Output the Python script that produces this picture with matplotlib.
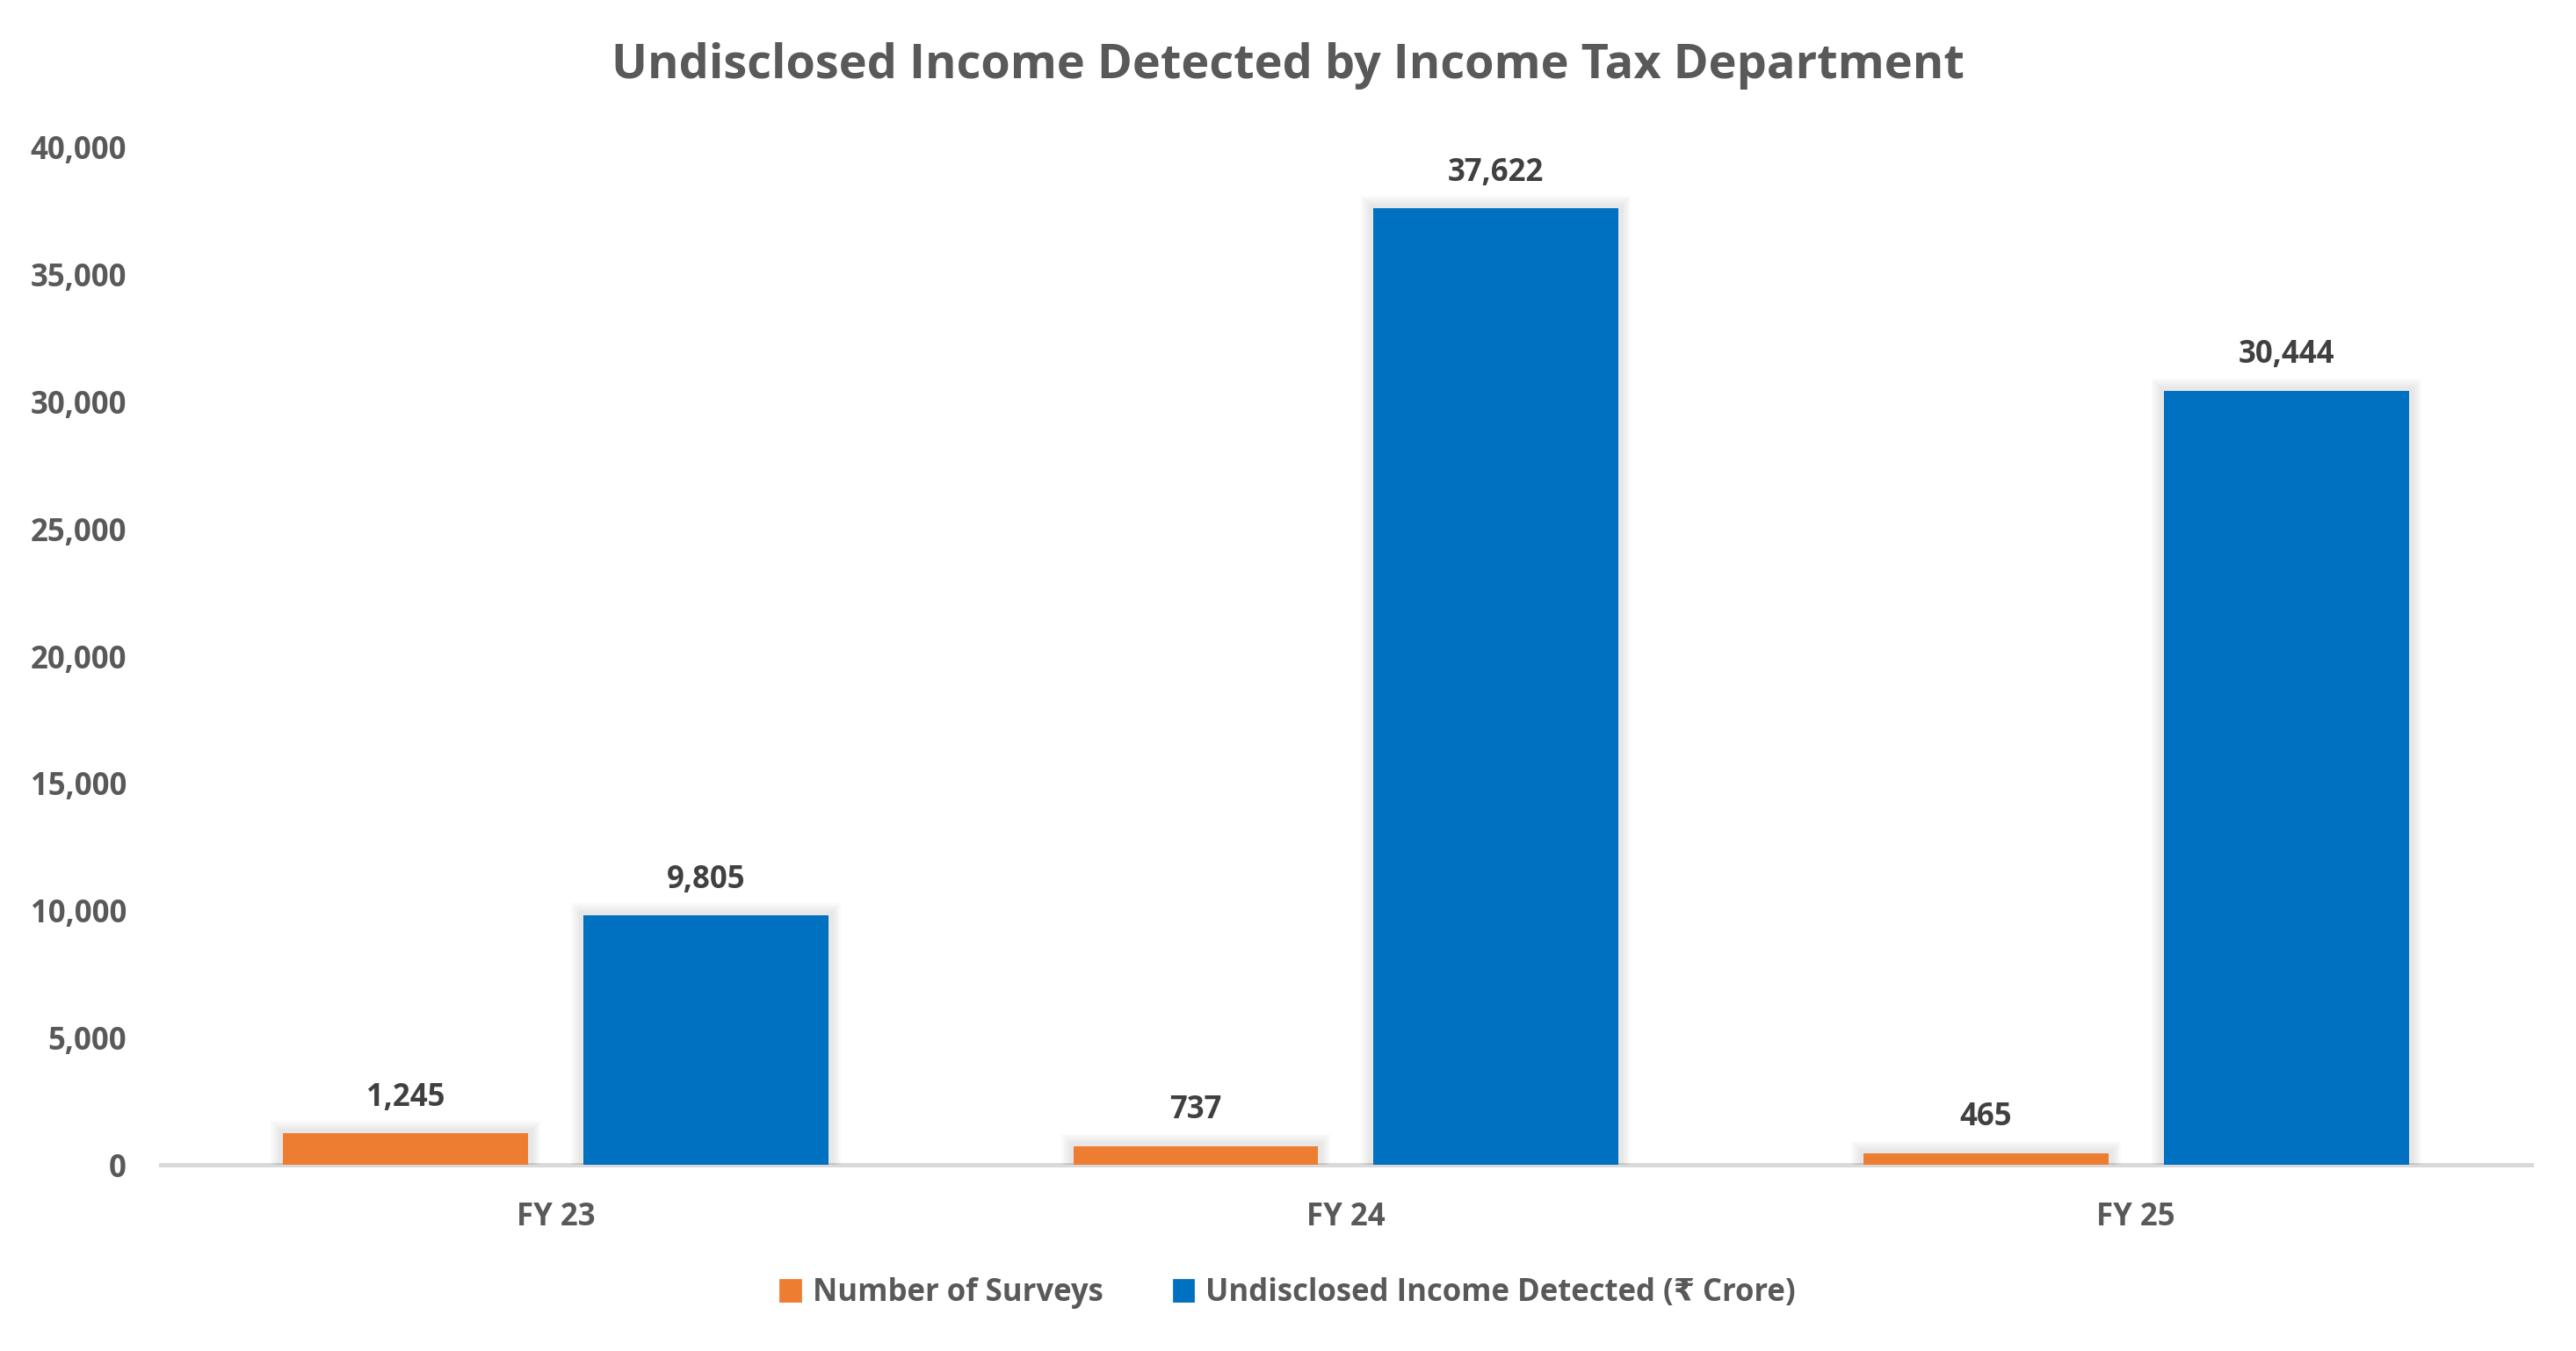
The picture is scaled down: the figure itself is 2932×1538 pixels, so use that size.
import matplotlib.pyplot as plt
import matplotlib.patheffects as pe
from matplotlib.patches import Patch
import numpy as np

plt.rcParams['font.family'] = ['Open Sans', 'DejaVu Sans']
plt.rcParams['font.weight'] = 'bold'

years = ['FY 23', 'FY 24', 'FY 25']
surveys = [1245, 737, 465]
income = [9805, 37622, 30444]
series_names = ['Number of Surveys', 'Undisclosed Income Detected (₹ Crore)']
yticks = [0, 5000, 10000, 15000, 20000, 25000, 30000, 35000, 40000]

ORANGE = '#ED7D31'
BLUE = '#0070C0'
GREY = '#595959'

fig = plt.figure(figsize=(14.66, 7.69), dpi=200)
ax = fig.add_axes([0.0624, 0.1378, 0.9202, 0.753])

x = np.arange(len(years))
w = 0.31

# soft shadow, faked with a few wide transparent strokes
shadow = [pe.Stroke(linewidth=lw, foreground='black', alpha=0.025) for lw in (10, 8, 6, 4)] + [pe.Normal()]

b1 = ax.bar(x - 0.19, surveys, w, color=ORANGE, zorder=3)
b2 = ax.bar(x + 0.19, income, w, color=BLUE, zorder=3)
for bars in (b1, b2):
    for p in bars:
        p.set_path_effects(shadow)
        p.set_linewidth(0)

for bars, vals in ((b1, surveys), (b2, income)):
    for p, v in zip(bars, vals):
        ax.annotate(f'{v:,}', (p.get_x() + p.get_width() / 2, v),
                    xytext=(0, 14.5), textcoords='offset points',
                    ha='center', va='center', fontsize=12.5,
                    fontweight='bold', color='#404040')

ax.set_xlim(-0.5, 2.5)
ax.set_ylim(0, 40000)
ax.set_xticks(x)
ax.set_xticklabels(years)
ax.set_yticks(yticks)
ax.set_yticklabels([f'{t:,}' for t in yticks])
ax.tick_params(axis='both', length=0, labelsize=12.5, labelcolor=GREY)
ax.tick_params(axis='x', pad=15)
ax.tick_params(axis='y', pad=14)
for lab in ax.get_xticklabels() + ax.get_yticklabels():
    lab.set_fontweight('bold')

for s in ('top', 'right', 'left'):
    ax.spines[s].set_visible(False)
ax.spines['bottom'].set_color('#D9D9D9')
ax.spines['bottom'].set_linewidth(1.8)
ax.spines['bottom'].set_zorder(2)

fig.text(0.5, 1 - 75 / 1538, 'Undisclosed Income Detected by Income Tax Department',
         ha='center', va='center', fontsize=19.5, fontweight='bold', color=GREY)

handles = [Patch(color=ORANGE), Patch(color=BLUE)]
fig.legend(handles=handles, labels=series_names, loc='center',
           bbox_to_anchor=(0.5, 1 - 1472 / 1538), ncol=2, frameon=False,
           labelcolor=GREY, handlelength=0.66, handleheight=0.66,
           handletextpad=0.4, columnspacing=2.3,
           prop={'weight': 'bold', 'size': 12.5})

fig.savefig('out.png', dpi=200, facecolor='white')
